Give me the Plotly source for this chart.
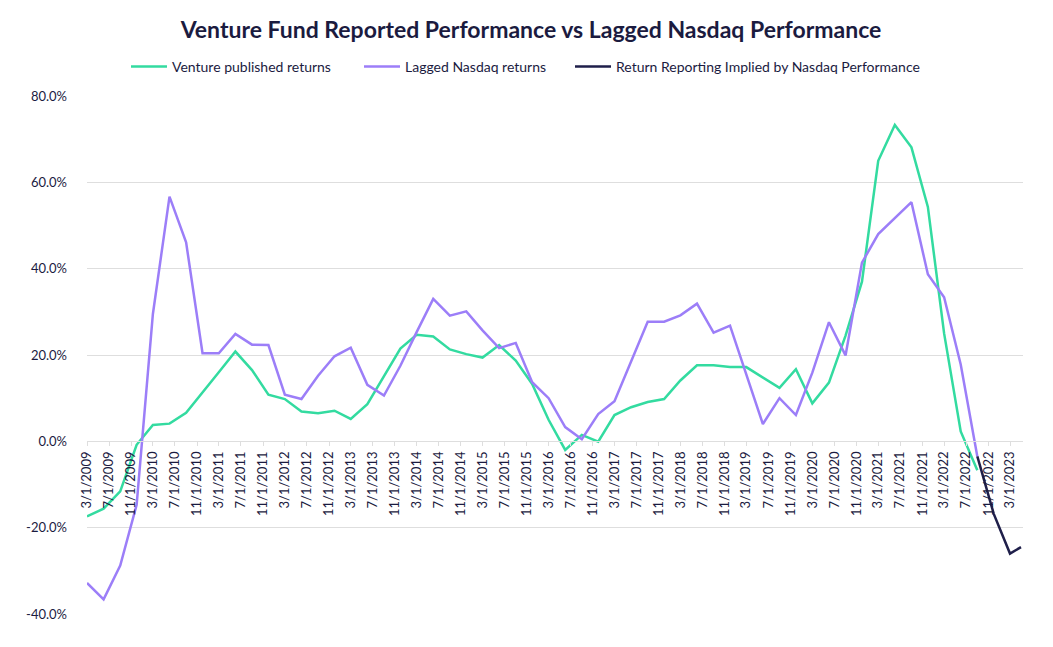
import pandas as pd
import plotly.graph_objects as go

# ---- data (quarterly) ----
quarters = pd.date_range("2009-03-01", periods=55, freq="3MS")

venture_returns = [
    -17.4, -15.6, -11.6, -0.8, 3.8, 4.1, 6.6, 11.2, 16.0, 20.8,
    16.5, 10.8, 9.8, 6.9, 6.5, 7.1, 5.2, 8.6, 15.1, 21.5,
    24.7, 24.3, 21.3, 20.2, 19.4, 22.3, 18.7, 13.3, 5.0, -2.0,
    1.5, -0.1, 6.1, 7.9, 9.1, 9.8, 14.1, 17.6, 17.6, 17.2,
    17.2, 14.7, 12.4, 16.7, 8.8, 13.6, 24.5, 37.0, 65.0, 73.3,
    68.1, 54.3, 25.0, 2.3, -6.7,
]

nasdaq_lagged = [
    -32.8, -36.6, -28.8, -14.7, 29.5, 56.7, 46.1, 20.4, 20.4, 24.9,
    22.4, 22.3, 10.8, 9.8, 15.2, 19.7, 21.7, 13.1, 10.6, 17.5,
    25.3, 33.0, 29.1, 30.1, 25.7, 21.6, 22.8, 13.7, 10.0, 3.3,
    0.5, 6.3, 9.3, 18.4, 27.7, 27.7, 29.2, 31.9, 25.2, 26.8,
    15.3, 4.0, 10.0, 6.1, 15.9, 27.6, 19.9, 41.4, 48.0, 51.6,
    55.4, 38.7, 33.4, 17.8, -3.5,
]

implied_dates = ["2022-09-01", "2022-12-01", "2023-03-01", "2023-05-01"]
implied_returns = [-3.5, -16.8, -26.0, -24.5]

tick_dates = pd.date_range("2009-03-01", "2023-03-01", freq="4MS")
tick_labels = [f"{d.month}/{d.day}/{d.year}" for d in tick_dates]

y_ticks = [-40, -20, 0, 20, 40, 60, 80]
y_labels = [f"{v:.1f}%" for v in y_ticks]

# ---- styling ----
TEXT = "#1b1b3f"
GRID = "#dedede"
GREEN = "#33DBA0"
PURPLE = "#9C7EF8"
NAVY = "#1F1F4A"
FONT = "Lato"

fig = go.Figure()
fig.add_trace(go.Scatter(x=quarters, y=venture_returns, mode="lines",
                         name="Venture published returns", legend="legend",
                         line=dict(color=GREEN, width=2.5)))
fig.add_trace(go.Scatter(x=quarters, y=nasdaq_lagged, mode="lines",
                         name="Lagged Nasdaq returns", legend="legend2",
                         line=dict(color=PURPLE, width=2.5)))
fig.add_trace(go.Scatter(x=pd.to_datetime(implied_dates), y=implied_returns, mode="lines",
                         name="Return Reporting Implied by Nasdaq Performance", legend="legend3",
                         line=dict(color=NAVY, width=2.5)))

# the page body adds an 8px offset; compensate in the margins
W, H = 1053, 647
ml, mr, mt, mb = 79, 38, 88, 41
y_min, y_max = -40, 80
plot_w = W - ml - mr
plot_h = H - mt - mb
leg_y = 1 + (mt - 59) / plot_h


def legend_at(xpix):
    return dict(orientation="h", x=(xpix - ml) / plot_w, xanchor="left",
                y=leg_y, yanchor="middle", itemwidth=36,
                font=dict(size=14, color=TEXT), bgcolor="rgba(0,0,0,0)")


fig.update_layout(
    width=W, height=H,
    margin=dict(l=ml, r=mr, t=mt, b=mb),
    paper_bgcolor="white", plot_bgcolor="white",
    font=dict(family=FONT, color=TEXT, size=13),
    title=dict(text="<b>Venture Fund Reported Performance vs Lagged Nasdaq Performance</b>",
               x=(ml + plot_w / 2 - 24) / W, xanchor="center",
               y=1 - 22 / H, yanchor="middle",
               font=dict(size=23, color=TEXT, family=FONT)),
    legend=legend_at(118),
    legend2=legend_at(351),
    legend3=legend_at(562),
    showlegend=True,
)

fig.update_xaxes(
    type="date",
    range=["2009-03-01", "2023-05-12"],
    tickmode="array", tickvals=tick_dates, ticktext=tick_labels,
    tickangle=-90, tickfont=dict(size=13, color=TEXT),
    showgrid=False, showline=True, linecolor=GRID, linewidth=1,
    ticks="outside", ticklen=4, tickcolor=GRID,
    anchor="free", position=(0 - y_min) / (y_max - y_min),
    zeroline=False,
)
fig.update_yaxes(
    range=[y_min, y_max],
    tickmode="array", tickvals=y_ticks, ticktext=y_labels,
    tickfont=dict(size=13, color=TEXT),
    showgrid=True, gridcolor=GRID, gridwidth=1,
    zeroline=False, showline=False, ticks="",
    ticklabelstandoff=19,
)

fig.write_html("out.html")
